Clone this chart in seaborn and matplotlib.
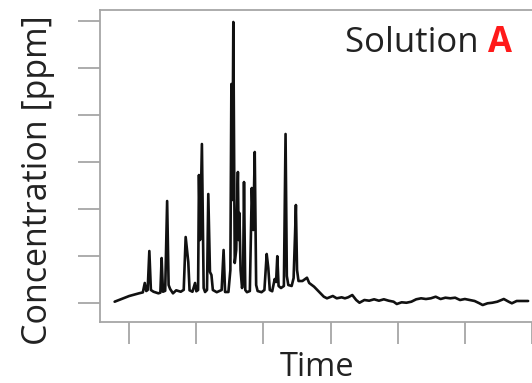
import matplotlib
matplotlib.use("Agg")
import matplotlib.pyplot as plt
import seaborn as sns
import pandas as pd

time = [-0.217, 0.000, 0.145, 0.203, 0.232, 0.254, 0.275, 0.300, 0.323, 0.362,
        0.435, 0.464, 0.483, 0.503, 0.536, 0.565, 0.587, 0.609, 0.652, 0.700,
        0.768, 0.812, 0.841, 0.880, 0.899, 0.942, 0.981, 1.000, 1.026, 1.039,
        1.055, 1.083, 1.109, 1.130, 1.159, 1.178, 1.203, 1.225, 1.246, 1.304,
        1.377, 1.406, 1.428, 1.478, 1.507, 1.522, 1.536, 1.551, 1.572, 1.594,
        1.619, 1.630, 1.642, 1.659, 1.681, 1.696, 1.710, 1.729, 1.754, 1.797,
        1.826, 1.848, 1.870, 1.891, 1.913, 1.971, 2.014, 2.048, 2.072, 2.094,
        2.130, 2.167, 2.188, 2.206, 2.225, 2.261, 2.304, 2.329, 2.348, 2.370,
        2.420, 2.449, 2.471, 2.483, 2.500, 2.522, 2.580, 2.648, 2.681, 2.754,
        2.826, 2.899, 2.946, 3.033, 3.091, 3.164, 3.213, 3.261, 3.323, 3.381,
        3.430, 3.503, 3.575, 3.648, 3.720, 3.793, 3.865, 3.938, 3.986, 4.058,
        4.130, 4.203, 4.275, 4.348, 4.420, 4.493, 4.565, 4.638, 4.710, 4.783,
        4.855, 4.928, 5.000, 5.072, 5.145, 5.217, 5.265, 5.338, 5.410, 5.483,
        5.580, 5.652, 5.700, 5.772, 5.822, 5.942]
concentration = [0.028, 0.149, 0.206, 0.226, 0.426, 0.255, 0.277, 1.106, 0.277, 0.240,
                 0.206, 0.220, 0.957, 0.240, 0.260, 2.170, 0.383, 0.300, 0.206, 0.270,
                 0.240, 0.280, 1.404, 0.872, 0.270, 0.240, 0.426, 0.250, 0.277, 2.723,
                 1.340, 3.383, 0.319, 0.234, 0.277, 2.319, 0.660, 0.596, 0.277, 0.230,
                 0.277, 1.128, 0.234, 0.234, 0.702, 4.660, 2.191, 5.979, 0.851, 1.128,
                 2.787, 1.340, 1.915, 0.702, 0.319, 0.489, 2.574, 0.277, 0.230, 0.255,
                 2.447, 1.553, 3.213, 0.383, 0.255, 0.230, 0.277, 1.043, 0.745, 0.277,
                 0.250, 0.511, 0.447, 0.996, 0.362, 0.319, 0.362, 3.596, 0.574, 0.383,
                 0.362, 0.532, 1.489, 2.085, 0.702, 0.468, 0.468, 0.538, 0.426, 0.347,
                 0.240, 0.134, 0.100, 0.149, 0.100, 0.121, 0.100, 0.121, 0.170, 0.064,
                 0.006, 0.064, 0.049, 0.079, 0.049, 0.079, 0.049, 0.028, -0.021, 0.015,
                 0.006, 0.028, 0.079, 0.100, 0.085, 0.100, 0.134, 0.085, 0.113, 0.100,
                 0.113, 0.064, 0.085, 0.064, 0.043, -0.006, -0.043, -0.006, 0.006, 0.028,
                 0.085, 0.028, -0.006, 0.043, 0.043, 0.043]
x_ticks = [0, 1, 2, 3, 4, 5, 6]
y_ticks = [0, 1, 2, 3, 4, 5, 6]

df = pd.DataFrame({"Time": time, "Concentration": concentration})

sns.set_theme(style="white")
plt.rcParams["font.family"] = ["Open Sans", "DejaVu Sans"]

W, H = 532, 383
fig = plt.figure(figsize=(W / 100, H / 100), dpi=100)
ax = fig.add_axes([100 / W, (H - 322) / H, 432 / W, 312 / H])

sns.lineplot(data=df, x="Time", y="Concentration", ax=ax, color="#111111",
             linewidth=1.9, estimator=None, sort=False)

ax.set_xlim(-0.435, 5.826)
ax.set_ylim(-0.404, 6.234)
ax.set_xticks(x_ticks)
ax.set_yticks(y_ticks)
ax.set_xticklabels([])
ax.set_yticklabels([])
ax.tick_params(axis="both", direction="out", length=16, width=1.3,
               color="#a6a6a6", left=True, bottom=True)
ax.set_xlabel("")
ax.set_ylabel("")
for side in ["top", "left", "bottom"]:
    ax.spines[side].set_color("#a6a6a6")
    ax.spines[side].set_linewidth(1.3)
ax.spines["right"].set_visible(False)

fig.text(317 / W, 1 - 368 / H, "Time", fontsize=23.5, color="#222222",
         ha="center", va="center")
fig.text(38 / W, 1 - 180 / H, "Concentration [ppm]", fontsize=24.5,
         color="#222222", rotation=90, ha="center", va="center")
fig.text(345 / W, 1 - 52 / H, "Solution ", fontsize=25, color="#222222",
         ha="left", va="baseline")
fig.text(488 / W, 1 - 52 / H, "A", fontsize=25, color="#ff1a1a",
         fontweight="bold", ha="left", va="baseline")

fig.savefig("out.png", dpi=100, facecolor="white")
